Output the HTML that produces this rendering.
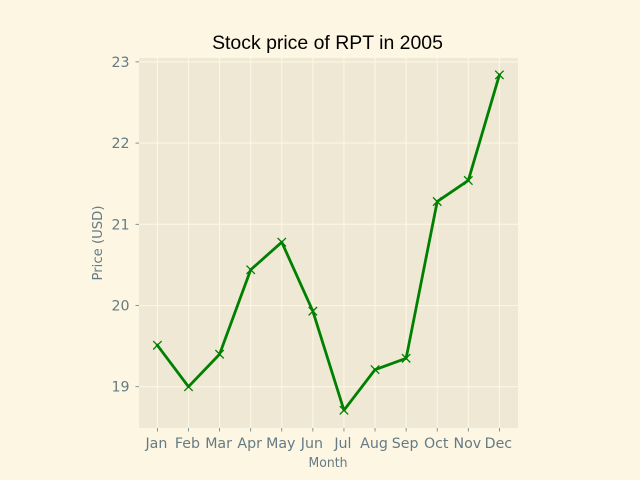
<!DOCTYPE html>
<html>
<head>
<meta charset="utf-8">
<style>
html,body{margin:0;padding:0;background:#fdf6e3;}
svg{display:block;}
text{font-family:"DejaVu Sans",sans-serif;fill:#657b83;}
</style>
</head>
<body>
<svg id="chart" width="640" height="480" viewBox="0 0 640 480" xmlns="http://www.w3.org/2000/svg">
<rect x="0" y="0" width="640" height="480" fill="#fdf6e3"/>
<rect x="139" y="58" width="379" height="370" fill="#eee8d5"/>
<g id="grid"></g>
<g id="ticks"></g>
<g id="series"></g>
<text x="327.5" y="49" text-anchor="middle" style="font-family:'Liberation Sans',sans-serif;font-size:19.45px;fill:#000">Stock price of RPT in 2005</text>
<text x="328" y="467" text-anchor="middle" font-size="13.4" textLength="39" lengthAdjust="spacingAndGlyphs">Month</text>
<text x="0" y="0" transform="translate(102 243) rotate(-90)" text-anchor="middle" font-size="13.4" textLength="75" lengthAdjust="spacingAndGlyphs">Price (USD)</text>
</svg>
<script>
const months = ['Jan','Feb','Mar','Apr','May','Jun','Jul','Aug','Sep','Oct','Nov','Dec'];
const prices = [19.51,19.0,19.4,20.44,20.78,19.93,18.71,19.21,19.35,21.28,21.54,22.84];
const yTicks = [19,20,21,22,23];

const NS = 'http://www.w3.org/2000/svg';
const xScale = i => 157.4 + i * (499.4 - 157.4) / 11;
const yScale = v => 386.7 - (v - 19) * 81.2;

function make(tag, attrs, parent) {
  const el = document.createElementNS(NS, tag);
  for (const k in attrs) el.setAttribute(k, attrs[k]);
  parent.appendChild(el);
  return el;
}

const grid = document.getElementById('grid');
const ticks = document.getElementById('ticks');
const series = document.getElementById('series');
const lineStyle = {stroke:'#fdf6e3','stroke-width':1.1};
const tickStyle = {stroke:'#657b83','stroke-width':0.8};

months.forEach((m, i) => {
  const x = xScale(i);
  const g = make('line', {x1:x, x2:x, y1:58, y2:428, ...lineStyle}, grid);
  
  
  const t = make('line', {x1:x, x2:x, y1:428, y2:431.5, ...tickStyle}, ticks);
  
  
  const l = make('text', {x:x - 1, y:448, 'text-anchor':'middle', 'font-size':14.2}, ticks);
  l.textContent = m;
  
  
});

yTicks.forEach(v => {
  const y = yScale(v);
  const g = make('line', {x1:139, x2:518, y1:y, y2:y, ...lineStyle}, grid);
  
  
  const t = make('line', {x1:135.5, x2:139, y1:y, y2:y, ...tickStyle}, ticks);
  
  
  const l = make('text', {x:129.5, y:y + 5, 'text-anchor':'end', 'font-size':14.2}, ticks);
  l.textContent = v;
  
  
});

const pts = prices.map((p, i) => xScale(i) + ',' + yScale(p)).join(' ');
const line = make('polyline', {points:pts, fill:'none', stroke:'#008000', 'stroke-width':2.8, 'stroke-linejoin':'round', 'stroke-linecap':'square'}, series);



prices.forEach((p, i) => {
  const x = xScale(i), y = yScale(p), r = 4.2;
  const mark = make('path', {d:`M${x-r} ${y-r}L${x+r} ${y+r}M${x-r} ${y+r}L${x+r} ${y-r}`, fill:'none', stroke:'#008000', 'stroke-width':1.3}, series);
  
  
});
</script>
</body>
</html>
